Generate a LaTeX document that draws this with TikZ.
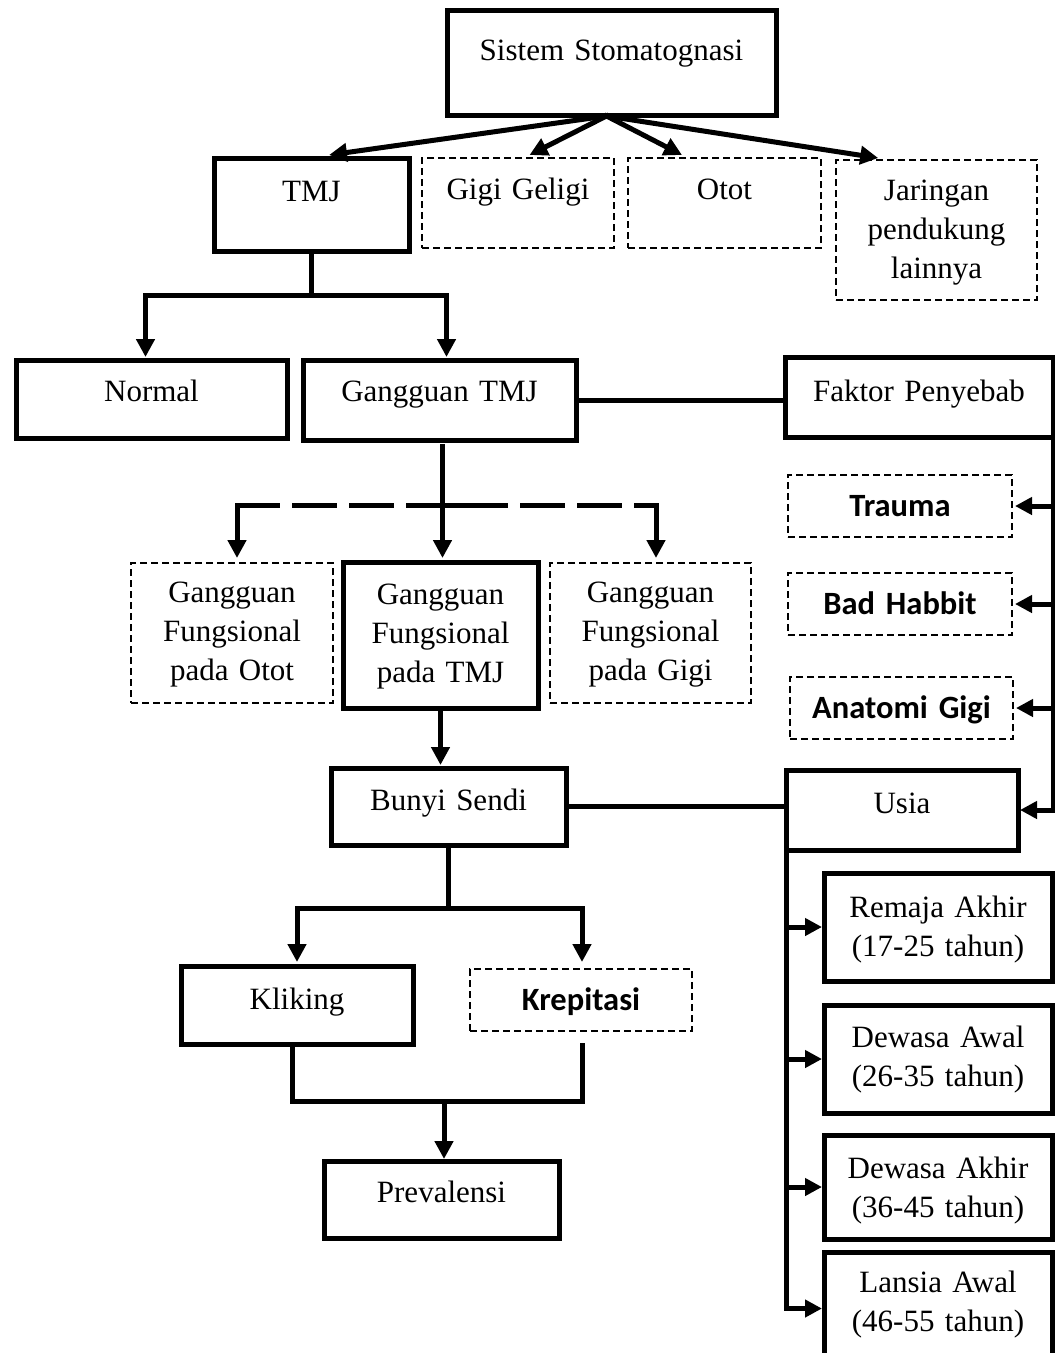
\documentclass[tikz,border=0pt]{standalone}
\usepackage{fontspec}
\setmainfont{Liberation Serif}
\newfontfamily\calb{Carlito}
\usetikzlibrary{arrows.meta,calc}
\tikzset{
  txt/.style={font=\fontsize{31}{39}\selectfont},
  sansb/.style={font=\calb\bfseries\fontsize{32.5}{38}\selectfont},
  solidbox/.style={draw, line width=5pt},
  dashbox/.style={draw, line width=2pt, dash pattern=on 7pt off 4pt},
  conn/.style={line width=5pt, line cap=rect},
  arr/.style={conn, -{Triangle[length=18pt,width=18pt]}},
  sarr/.style={conn, -{Triangle[length=17pt,width=17pt]}},
}
\newcommand\mybox[8]{%
  \pgfmathsetmacro\bxw{#5-#3}%
  \pgfmathsetmacro\bxh{#7-#4}%
  \pgfmathsetmacro\bxd{#6-#7}%
  \node[txt,#1,anchor=north west,inner sep=0pt,outer sep=0pt,text width=\bxw pt,text height=\bxh pt,text depth=\bxd pt,align=center] (#2) at (#3,#4) {#8};%
}
\begin{document}
\begin{tikzpicture}[x=1pt,y=-1pt]
\useasboundingbox (0,0) rectangle (1055,1353);
\clip (0,0) rectangle (1055,1353);
% boxes
\mybox{solidbox}{sis}{447}{10}{776}{115}{60}{Sistem Stomatognasi}
\mybox{solidbox}{tmj}{214}{158}{409}{251}{201}{TMJ}
\mybox{dashbox}{gigi}{422}{158}{614}{248}{199}{Gigi Geligi}
\mybox{dashbox}{otot}{628}{158}{821}{248}{199}{Otot}
\mybox{dashbox}{jar}{836}{160}{1037}{300}{200}{Jaringan\\pendukung\\lainnya}
\mybox{solidbox}{normal}{16}{360}{287}{438}{401}{Normal}
\mybox{solidbox}{gtmj}{303}{360}{576}{440}{401}{Gangguan TMJ}
\mybox{solidbox}{fp}{785}{357}{1053}{437}{401}{Faktor Penyebab}
\mybox{dashbox,sansb}{trauma}{788}{475}{1012}{537}{516}{Trauma}
\mybox{dashbox,sansb}{bad}{788}{573}{1012}{635}{614}{Bad Habbit}
\mybox{dashbox,sansb}{anat}{790}{677}{1013}{739}{718}{Anatomi Gigi}
\mybox{dashbox}{gfo}{131}{563}{333}{703}{602}{Gangguan\\Fungsional\\pada Otot}
\mybox{solidbox}{gft}{343}{562}{538}{708}{604}{Gangguan\\Fungsional\\pada TMJ}
\mybox{dashbox}{gfg}{550}{563}{751}{703}{602}{Gangguan\\Fungsional\\pada Gigi}
\mybox{solidbox}{usia}{786}{770}{1018}{850}{813}{Usia}
\mybox{solidbox}{bs}{331}{768}{566}{845}{810}{Bunyi Sendi}
\mybox{solidbox}{remaja}{824}{873}{1052}{981}{917}{Remaja Akhir\\(17-25 tahun)}
\mybox{solidbox}{dawal}{824}{1005}{1052}{1113}{1047}{Dewasa Awal\\(26-35 tahun)}
\mybox{solidbox}{dakhir}{824}{1135}{1052}{1239}{1178}{Dewasa Akhir\\(36-45 tahun)}
\mybox{solidbox}{lansia}{824}{1252}{1052}{1365}{1292}{Lansia Awal\\(46-55 tahun)}
\mybox{solidbox}{klik}{181}{966}{413}{1044}{1009}{Kliking}
\mybox{dashbox,sansb}{krep}{470}{969}{692}{1031}{1010}{Krepitasi}
\mybox{solidbox}{prev}{324}{1161}{559}{1238}{1202}{Prevalensi}
% helper coordinates
\coordinate (src) at ($(sis.south)+(-5,1)$);
\coordinate (tj) at (312,295);
\coordinate (dl) at (237,505);
\coordinate (dr) at (656,505);
\coordinate (dm1) at (409,505);
\coordinate (dm2) at (482,505);
\coordinate (bj) at (448,908);
\coordinate (kj) at (444,1101);
% from Sistem Stomatognasi
\draw[arr] (src) -- ($(tmj.north west)!0.59!(tmj.north east)+(0,-3)$);
\draw[arr] (src) -- ($(gigi.north west)!0.56!(gigi.north east)+(0,-3)$);
\draw[arr] (src) -- ($(otot.north west)!0.28!(otot.north east)+(0,-3)$);
\draw[arr] (src) -- ($(jar.north west)!0.21!(jar.north east)+(0,-2)$);
% TMJ split
\draw[conn] (tmj.south) -- (tmj.south |- tj);
\draw[arr] (tmj.south |- tj) -| ($(normal.north)+(-6,-3)$);
\draw[arr] (tmj.south |- tj) -| ($(gtmj.north)+(7,-3)$);
% Gangguan TMJ to Faktor Penyebab
\draw[conn] (gtmj.east) -- (gtmj.east -| fp.west);
\draw[conn] (fp.south east) -- (fp.south east |- usia.east);
\draw[sarr] (fp.south east |- trauma.east) -- ($(trauma.east)+(3,0)$);
\draw[sarr] (fp.south east |- bad.east) -- ($(bad.east)+(3,0)$);
\draw[sarr] (fp.south east |- anat.east) -- ($(anat.east)+(3,0)$);
\draw[sarr] (fp.south east |- usia.east) -- ($(usia.east)+(2,0)$);
% Gangguan TMJ down
\draw[conn, dash pattern=on 40pt off 17pt] (dl) -- (dr);
\draw[conn] (dm1) -- (dm2);
\draw[arr] ($(gtmj.south)+(3,6)$) -- ($(gtmj.south |- gft.north)+(3,-4)$);
\draw[arr] (dl) -- ($(dl |- gfo.north)+(0,-5)$);
\draw[arr] (dr) -- ($(dr |- gfg.north)+(0,-5)$);
% to Bunyi Sendi
\draw[arr] (gft.south) -- ($(gft.south |- bs.north)+(0,-3)$);
% Bunyi Sendi to Usia and ages
\draw[conn] (bs.east) -- (bs.east -| usia.west);
\draw[conn] (usia.west) -- (usia.west |- lansia.west);
\draw[sarr] (usia.west |- remaja.west) -- ($(remaja.west)+(-2,0)$);
\draw[sarr] (usia.west |- dawal.west) -- ($(dawal.west)+(-2,0)$);
\draw[sarr] (usia.west |- dakhir.west) -- ($(dakhir.west)+(-2,0)$);
\draw[sarr] (usia.west |- lansia.west) -- ($(lansia.west)+(-2,0)$);
% Bunyi Sendi split
\draw[conn] (bs.south) -- (bs.south |- bj);
\draw[arr] (bs.south |- bj) -| ($(klik.north)+(0,-4)$);
\draw[arr] (bs.south |- bj) -| ($(krep.north)+(1,-7)$);
% to Prevalensi
\draw[conn] ($(klik.south)+(-5,0)$) |- ($(krep.south)+(1,70)$) -- ($(krep.south)+(1,14)$);
\draw[arr] (kj) -- ($(prev.north -| kj)+(0,-2)$);
\end{tikzpicture}
\end{document}
